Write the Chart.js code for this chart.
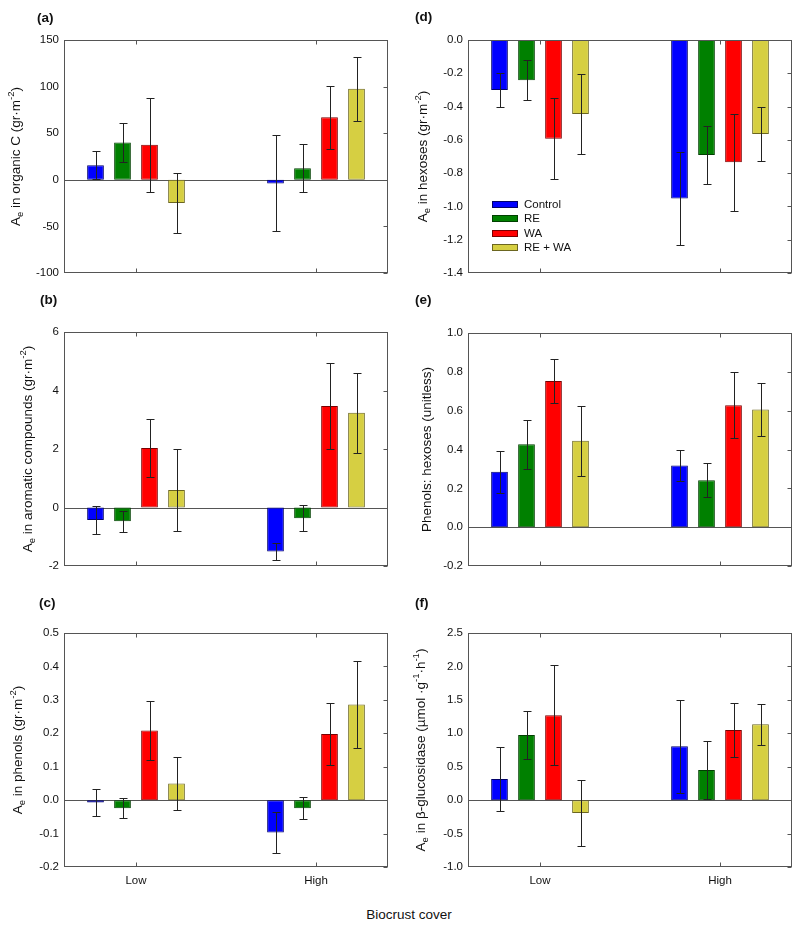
<!DOCTYPE html>
<html>
<head>
<meta charset="utf-8">
<title>Biocrust cover panels</title>
<script src="https://cdn.jsdelivr.net/npm/chart.js@4.4.1/dist/chart.umd.min.js"></script>
<style>
    body {
        margin: 0;
        width: 800px;
        height: 927px;
        position: relative;
        overflow: hidden;
        background: #fff;
        font-family: "Liberation Sans", Arial, sans-serif;
    }
    canvas { position: absolute; }
    #xTitle {
        position: absolute;
        left: 309px;
        width: 200px;
        top: 907px;
        text-align: center;
        font-size: 13.5px;
        color: #111;
    }
</style>
</head>
<body>
<canvas id="panelA"></canvas>
<canvas id="panelB"></canvas>
<canvas id="panelC"></canvas>
<canvas id="panelD"></canvas>
<canvas id="panelE"></canvas>
<canvas id="panelF"></canvas>
<div id="xTitle">Biocrust cover</div>

<script>
// Categories and treatments
const groups = ['Low', 'High'];
const groupPos = [0, 1];
const treatments = ['Control', 'RE', 'WA', 'RE + WA'];

// (a) organic C - one row per treatment, [Low, High]
const orgCMean = [[15.7, -3.9], [40.0, 12.5], [37.5, 67.1], [-25.0, 97.6]];
const orgCErr = [[14.7, 51.5], [21.0, 25.4], [50.7, 33.8], [32.5, 34.3]];
const orgCTicks = [-100, 150, 50];

// (b) aromatic compounds
const aroMean = [[-0.43, -1.50], [-0.47, -0.37], [2.03, 3.47], [0.60, 3.24]];
const aroErr = [[0.49, 0.30], [0.36, 0.45], [0.98, 1.47], [1.41, 1.37]];
const aroTicks = [-2, 6, 2];

// (c) phenols
const phenMean = [[-0.007, -0.097], [-0.024, -0.024], [0.208, 0.198], [0.050, 0.286]];
const phenErr = [[0.040, 0.062], [0.030, 0.032], [0.088, 0.092], [0.079, 0.129]];
const phenTicks = [-0.2, 0.5, 0.1];

// (d) hexoses
const hexMean = [[-0.300, -0.953], [-0.242, -0.691], [-0.594, -0.735], [-0.445, -0.565]];
const hexErr = [[0.103, 0.279], [0.120, 0.173], [0.243, 0.293], [0.238, 0.164]];
const hexTicks = [-1.4, 0, 0.2];

// (e) phenols : hexoses
const ratioMean = [[0.285, 0.317], [0.427, 0.242], [0.753, 0.628], [0.445, 0.606]];
const ratioErr = [[0.107, 0.080], [0.125, 0.086], [0.114, 0.170], [0.179, 0.138]];
const ratioTicks = [-0.2, 1.0, 0.2];

// (f) beta-glucosidase
const glucMean = [[0.317, 0.805], [0.976, 0.449], [1.270, 1.050], [-0.194, 1.135]];
const glucErr = [[0.478, 0.698], [0.360, 0.430], [0.750, 0.400], [0.490, 0.310]];
const glucTicks = [-1.0, 2.5, 0.5];

const fillColors = ['#0000FF', '#008000', '#FF0000', '#D6CF42'];
const edgeColors = ['#00006A', '#004000', '#7A0000', '#6B6620'];

const FONT = '"Liberation Sans", Arial, sans-serif';
Chart.defaults.font.family = FONT;

// layout of each panel: canvas box [left, top, w, h], plot box [left, top, right, bottom]
const panels = [
    { id: 'panelA', tag: '(a)', mean: orgCMean, err: orgCErr, ticks: orgCTicks, dec: 0,
      canvas: [0, 0, 400, 288], plot: [64, 40, 388, 273], titleX: 16, tagPos: [37, 18],
      title: [['A', 'n'], ['e', 'sub'], [' in organic C (gr·m', 'n'], ['-2', 'sup'], [')', 'n']] },
    { id: 'panelB', tag: '(b)', mean: aroMean, err: aroErr, ticks: aroTicks, dec: 0,
      canvas: [0, 288, 400, 302], plot: [64, 332, 388, 566], titleX: 28, tagPos: [40, 300],
      title: [['A', 'n'], ['e', 'sub'], [' in aromatic compounds (gr·m', 'n'], ['-2', 'sup'], [')', 'n']] },
    { id: 'panelC', tag: '(c)', mean: phenMean, err: phenErr, ticks: phenTicks, dec: 1,
      canvas: [0, 590, 400, 315], plot: [64, 633, 388, 867], titleX: 18, tagPos: [39, 603], xLabels: true,
      title: [['A', 'n'], ['e', 'sub'], [' in phenols (gr·m', 'n'], ['-2', 'sup'], [')', 'n']] },
    { id: 'panelD', tag: '(d)', mean: hexMean, err: hexErr, ticks: hexTicks, dec: 1,
      canvas: [400, 0, 400, 288], plot: [468, 40, 792, 273], titleX: 423, tagPos: [415, 17], legend: true,
      title: [['A', 'n'], ['e', 'sub'], [' in hexoses (gr·m', 'n'], ['-2', 'sup'], [')', 'n']] },
    { id: 'panelE', tag: '(e)', mean: ratioMean, err: ratioErr, ticks: ratioTicks, dec: 1,
      canvas: [400, 288, 400, 302], plot: [468, 333, 792, 566], titleX: 427, tagPos: [415, 300],
      title: [['Phenols: hexoses (unitless)', 'n']] },
    { id: 'panelF', tag: '(f)', mean: glucMean, err: glucErr, ticks: glucTicks, dec: 1,
      canvas: [400, 590, 400, 315], plot: [468, 633, 792, 867], titleX: 421, tagPos: [415, 603], xLabels: true,
      title: [['A', 'n'], ['e', 'sub'], [' in β-glucosidase (µmol ·g', 'n'], ['-1', 'sup'], ['·h', 'n'], ['-1', 'sup'], [')', 'n']] }
];

function partFont(kind) {
    return kind === 'n' ? '13.5px ' + FONT : '9.5px ' + FONT;
}

// rotated axis title with sub/superscripts
function drawYTitle(ctx, parts, cx, cy) {
    ctx.save();
    ctx.translate(cx, cy);
    ctx.rotate(-Math.PI / 2);
    ctx.textBaseline = 'middle';
    ctx.textAlign = 'left';
    ctx.fillStyle = '#111';
    let total = 0;
    parts.forEach(p => { ctx.font = partFont(p[1]); total += ctx.measureText(p[0]).width; });
    let x = -total / 2;
    parts.forEach(p => {
        ctx.font = partFont(p[1]);
        const dy = p[1] === 'sub' ? 4 : (p[1] === 'sup' ? -5 : 0);
        ctx.fillText(p[0], x, dy);
        x += ctx.measureText(p[0]).width;
    });
    ctx.restore();
}

const decorPlugin = {
    id: 'decor',
    beforeDatasetsDraw(chart) {
        const { ctx, chartArea } = chart;
        const y = Math.round(chart.scales.y.getPixelForValue(0)) + 0.5;
        ctx.save();
        ctx.strokeStyle = '#555';
        ctx.lineWidth = 1;
        ctx.beginPath();
        ctx.moveTo(chartArea.left, y);
        ctx.lineTo(chartArea.right, y);
        ctx.stroke();
        ctx.restore();
    },
    afterDatasetsDraw(chart) {
        const { ctx, chartArea } = chart;
        const yScale = chart.scales.y;
        const xScale = chart.scales.x;
        const cfg = chart.options.plugins.decor;

        // error bars
        ctx.save();
        ctx.strokeStyle = '#222';
        ctx.lineWidth = 1;
        chart.data.datasets.forEach((ds, di) => {
            const meta = chart.getDatasetMeta(di);
            meta.data.forEach((bar, i) => {
                const v = ds.data[i].y;
                const e = ds.errors[i];
                const x = Math.round(bar.x) + 0.5;
                const yTop = Math.round(yScale.getPixelForValue(v + e)) + 0.5;
                const yBot = Math.round(yScale.getPixelForValue(v - e)) + 0.5;
                ctx.beginPath();
                ctx.moveTo(x, yTop);
                ctx.lineTo(x, yBot);
                ctx.moveTo(x - 4, yTop);
                ctx.lineTo(x + 4, yTop);
                ctx.moveTo(x - 4, yBot);
                ctx.lineTo(x + 4, yBot);
                ctx.stroke();
            });
        });
        ctx.restore();

        // frame and inward ticks
        const l = chartArea.left + 0.5, r = chartArea.right - 0.5;
        const t = chartArea.top + 0.5, b = chartArea.bottom - 0.5;
        ctx.save();
        ctx.strokeStyle = '#555';
        ctx.lineWidth = 1;
        ctx.strokeRect(l, t, r - l, b - t);
        ctx.beginPath();
        yScale.ticks.forEach(tk => {
            const y = Math.round(yScale.getPixelForValue(tk.value)) + 0.5;
            ctx.moveTo(r, y);
            ctx.lineTo(r - 4, y);
        });
        xScale.ticks.forEach(tk => {
            const x = Math.round(xScale.getPixelForValue(tk.value)) + 0.5;
            ctx.moveTo(x, t);
            ctx.lineTo(x, t + 4);
            ctx.moveTo(x, b);
            ctx.lineTo(x, b - 4);
        });
        ctx.stroke();
        ctx.restore();

        // legend inside panel (d)
        if (cfg.legend) {
            ctx.save();
            ctx.font = '11.5px ' + FONT;
            ctx.textBaseline = 'middle';
            chart.data.datasets.forEach((ds, i) => {
                const y = Math.round(chartArea.top + 164 + i * 14.3);
                ctx.fillStyle = ds.backgroundColor;
                ctx.fillRect(chartArea.left + 24, y - 3, 26, 7);
                ctx.strokeStyle = ds.borderColor;
                ctx.strokeRect(chartArea.left + 24.5, y - 2.5, 25, 6);
                ctx.fillStyle = '#111';
                ctx.fillText(ds.label, chartArea.left + 56, y + 0.5);
            });
            ctx.restore();
        }
    },
    afterDraw(chart) {
        const { ctx, chartArea } = chart;
        const cfg = chart.options.plugins.decor;
        drawYTitle(ctx, cfg.title, cfg.titleX, (chartArea.top + chartArea.bottom) / 2);
        ctx.save();
        ctx.font = 'bold 13.5px ' + FONT;
        ctx.textBaseline = 'middle';
        ctx.fillStyle = '#111';
        ctx.fillText(cfg.tag, cfg.tagPos[0], cfg.tagPos[1]);
        ctx.restore();
    }
};

function tickText(v, dec) {
    const n = Math.abs(v) < 1e-9 ? 0 : v;
    return Number(n).toFixed(dec);
}

function buildPanel(p) {
    const canvas = document.getElementById(p.id);
    const [cx, cy, cw, ch] = p.canvas;
    const [pl, pt, pr, pb] = p.plot;
    canvas.width = cw;
    canvas.height = ch;
    canvas.style.left = cx + 'px';
    canvas.style.top = cy + 'px';

    const datasets = treatments.map((name, t) => ({
        label: name,
        data: groupPos.map((g, i) => ({ x: g, y: p.mean[t][i] })),
        errors: p.err[t],
        backgroundColor: fillColors[t],
        borderColor: edgeColors[t],
        borderWidth: 1,
        borderSkipped: false,
        categoryPercentage: 0.6,
        barPercentage: 0.62
    }));

    return new Chart(canvas.getContext('2d'), {
        type: 'bar',
        data: { datasets: datasets },
        plugins: [decorPlugin],
        options: {
            responsive: false,
            animation: false,
            devicePixelRatio: 1,
            layout: { padding: { left: 0, top: pt - cy, right: cx + cw - pr, bottom: 0 } },
            plugins: {
                legend: { display: false },
                tooltip: { enabled: false },
                decor: {
                    title: p.title,
                    titleX: p.titleX - cx,
                    tag: p.tag,
                    tagPos: [p.tagPos[0] - cx, p.tagPos[1] - cy],
                    legend: !!p.legend
                }
            },
            scales: {
                x: {
                    type: 'linear',
                    min: -0.4,
                    max: 1.4,
                    offset: false,
                    grid: { display: false, drawTicks: false },
                    border: { display: false },
                    afterBuildTicks: axis => { axis.ticks = groupPos.map(v => ({ value: v })); },
                    afterFit: axis => { axis.height = cy + ch - pb; },
                    ticks: {
                        padding: 7,
                        color: '#111',
                        font: { size: 11.5 },
                        maxRotation: 0,
                        callback: v => (p.xLabels ? groups[groupPos.indexOf(v)] : '')
                    }
                },
                y: {
                    min: p.ticks[0],
                    max: p.ticks[1],
                    grid: { display: false, drawTicks: false },
                    border: { display: false },
                    afterFit: axis => { axis.width = pl - cx; },
                    ticks: {
                        stepSize: p.ticks[2],
                        padding: 5,
                        color: '#111',
                        font: { size: 11.5 },
                        callback: v => tickText(v, p.dec)
                    }
                }
            }
        }
    });
}

panels.forEach(buildPanel);
</script>
</body>
</html>
